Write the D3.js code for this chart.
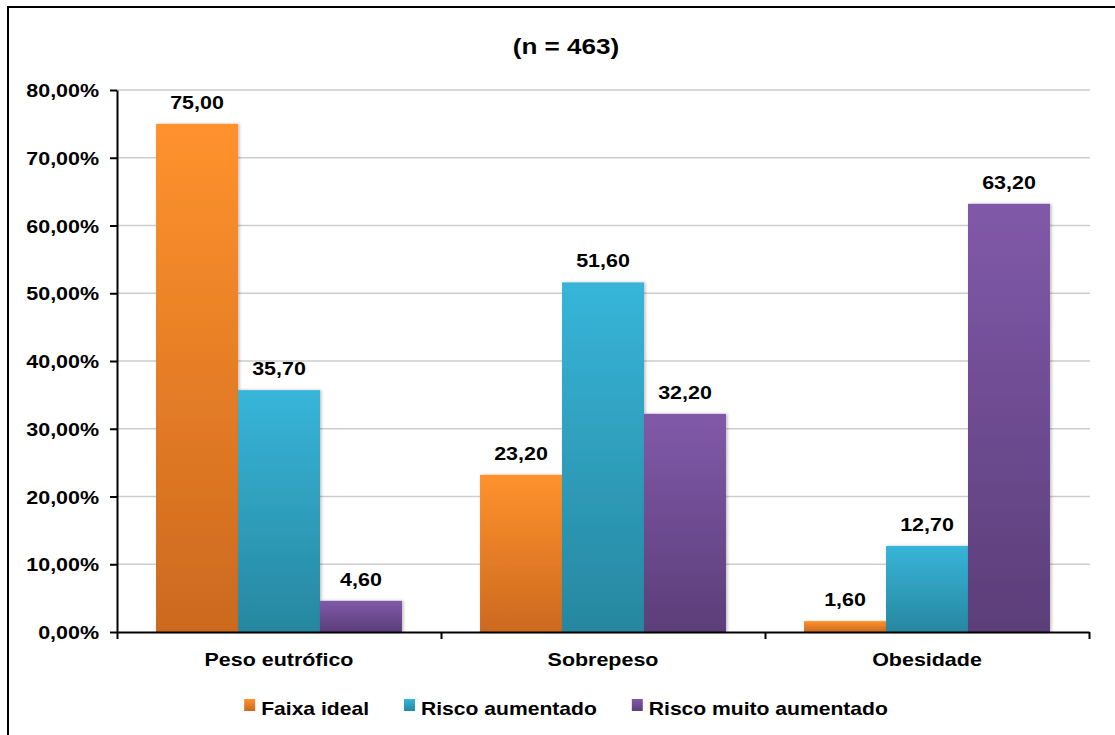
<!DOCTYPE html>
<html>
<head>
<meta charset="utf-8">
<script src="https://cdn.jsdelivr.net/npm/d3@7"></script>
<style>
  html, body { margin: 0; padding: 0; background: #ffffff; }
  svg { display: block; }
  text { font-family: "Liberation Sans", Arial, sans-serif; font-weight: bold; fill: #000; }
</style>
</head>
<body>
<svg id="chart" width="1115" height="735"></svg>
<script>
// Categories, series and values
const title = "(n = 463)";
const categories = ["Peso eutrófico", "Sobrepeso", "Obesidade"];
const seriesNames = ["Faixa ideal", "Risco aumentado", "Risco muito aumentado"];
const faixaIdeal = [75.00, 23.20, 1.60];
const riscoAumentado = [35.70, 51.60, 12.70];
const riscoMuitoAumentado = [4.60, 32.20, 63.20];
const yTicks = [0, 10, 20, 30, 40, 50, 60, 70, 80];

const seriesValues = [faixaIdeal, riscoAumentado, riscoMuitoAumentado];
const seriesColors = [
  { top: "#ff922d", bottom: "#cc691f" },
  { top: "#37b5d9", bottom: "#27879f" },
  { top: "#8159a9", bottom: "#5b3e79" }
];

const W = 1115, H = 735;
const margin = { left: 117, right: 26, top: 90, bottom: 103 };
const plotL = margin.left, plotR = W - margin.right;
const plotT = margin.top, plotB = H - margin.bottom;
const textScale = 1.16;

const locale = d3.formatLocale({ decimal: ",", thousands: ".", grouping: [3], currency: ["", ""] });
const fmtVal = locale.format(".2f");

const svg = d3.select("#chart");
const defs = svg.append("defs");

// Vertical gradient per series
seriesColors.forEach((c, i) => {
  const g = defs.append("linearGradient")
    .attr("id", "grad" + i).attr("x1", 0).attr("y1", 0).attr("x2", 0).attr("y2", 1);
  g.append("stop").attr("offset", "0%").attr("stop-color", c.top);
  g.append("stop").attr("offset", "100%").attr("stop-color", c.bottom);
});

const shadow = defs.append("filter").attr("id", "barShadow")
  .attr("x", "-10%").attr("y", "-10%").attr("width", "125%").attr("height", "120%");
shadow.append("feDropShadow").attr("dx", 1.5).attr("dy", 0).attr("stdDeviation", 1.5)
  .attr("flood-color", "#000").attr("flood-opacity", 0.25);

// Outer frame
svg.append("rect").attr("x", 8).attr("y", 7).attr("width", 1130).attr("height", 760)
  .attr("fill", "none").attr("stroke", "#000").attr("stroke-width", 2);

// Place a text horizontally stretched around its anchor point
function placeText(sel, x, y) {
  sel.attr("x", 0).attr("y", 0)
    .attr("transform", `translate(${x},${y}) scale(${textScale},1)`);
  return sel;
}

// Scales
const y = d3.scaleLinear().domain([0, 80]).range([plotB, plotT]);
const x0 = d3.scaleBand().domain(categories).range([plotL, plotR]).padding(0);
const x1 = d3.scaleBand().domain(seriesNames).range([0, x0.bandwidth()])
  .paddingInner(0).paddingOuter(0.476);

// Title
placeText(svg.append("text").attr("text-anchor", "middle").style("font-size", "22.5px").text(title),
  566, 54);

// Gridlines
svg.append("g").selectAll("line")
  .data(yTicks.filter(d => d > 0))
  .join("line")
  .attr("x1", plotL).attr("x2", plotR + 1)
  .attr("y1", d => y(d)).attr("y2", d => y(d))
  .attr("stroke", "#cdcdcd").attr("stroke-width", 1.6);

// Bars
const groups = svg.append("g").selectAll("g")
  .data(categories)
  .join("g")
  .attr("transform", d => `translate(${x0(d)},0)`);

groups.each(function (cat, ci) {
  const g = d3.select(this);
  seriesNames.forEach((s, si) => {
    const v = seriesValues[si][ci];
    g.append("rect")
      .attr("x", x1(s))
      .attr("width", x1.bandwidth())
      .attr("y", y(v))
      .attr("height", y(0) - y(v))
      .attr("fill", `url(#grad${si})`)
      .attr("filter", "url(#barShadow)");
    placeText(g.append("text").attr("text-anchor", "middle").style("font-size", "18.5px").text(fmtVal(v)),
      x1(s) + x1.bandwidth() / 2, y(v) - 15);
  });
});

// Y axis
const yAxis = svg.append("g")
  .attr("transform", `translate(${plotL},0)`)
  .call(d3.axisLeft(y).tickValues(yTicks).tickSize(7).tickSizeOuter(0)
    .tickFormat(d => fmtVal(d) + "%"));
yAxis.select(".domain").attr("stroke", "#000").attr("stroke-width", 2);
yAxis.selectAll(".tick line").attr("stroke", "#000").attr("stroke-width", 2);
yAxis.selectAll(".tick text").each(function () {
  const t = d3.select(this);
  t.attr("dy", "0.36em").style("font-size", "18.5px").attr("font-family", null);
  placeText(t, -18, 0);
});

// X axis with category boundary ticks
const xb = d3.scaleLinear().domain([0, categories.length]).range([plotL, plotR]);
const xAxis = svg.append("g")
  .attr("transform", `translate(0,${plotB})`)
  .call(d3.axisBottom(xb).tickValues(d3.range(categories.length + 1)).tickSize(7)
    .tickSizeOuter(0).tickFormat(""));
xAxis.select(".domain").attr("stroke", "#000").attr("stroke-width", 2);
xAxis.selectAll(".tick line").attr("stroke", "#000").attr("stroke-width", 2);

// Category labels
svg.append("g").selectAll("text")
  .data(categories)
  .join("text")
  .attr("text-anchor", "middle")
  .style("font-size", "18.5px")
  .text(d => d)
  .each(function (d) { placeText(d3.select(this), x0(d) + x0.bandwidth() / 2, 666); });

// Legend
const legend = svg.append("g");
const items = seriesNames.map((name, i) => {
  const g = legend.append("g");
  g.append("rect").attr("x", 0).attr("y", -16).attr("width", 11).attr("height", 12)
    .attr("fill", `url(#grad${i})`);
  const t = g.append("text").attr("text-anchor", "start").style("font-size", "18.2px").text(name);
  placeText(t, 17, 0);
  return { g, w: 17 + t.node().getComputedTextLength() * textScale };
});
const gap = 35;
const totalW = d3.sum(items, d => d.w) + gap * (items.length - 1);
let lx = 566 - totalW / 2;
items.forEach(it => {
  it.g.attr("transform", `translate(${lx},715)`);
  lx += it.w + gap;
});
</script>
</body>
</html>
